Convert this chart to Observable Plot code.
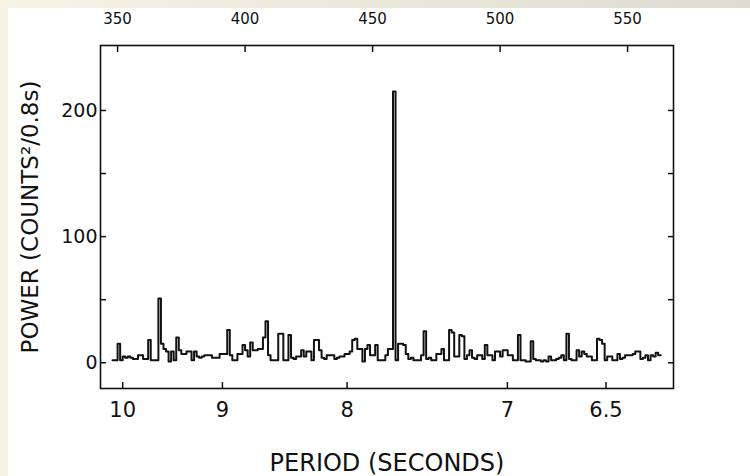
<!DOCTYPE html>
<html>
<head>
<meta charset="utf-8">
<script src="https://cdn.jsdelivr.net/npm/d3@7"></script>
<script src="https://cdn.jsdelivr.net/npm/@observablehq/plot@0.6"></script>
<style>
  html, body { margin: 0; padding: 0; background: #fff; }
  #page { position: relative; width: 750px; height: 476px; background: #f6f3e4; overflow: hidden; }
  #page::before { content: ""; position: absolute; left: 0; top: 0; width: 750px; height: 8px;
    background: linear-gradient(to right, #f7f4e6, #dedbd0); }
  #sheet { position: absolute; left: 8px; top: 8px; right: 0; bottom: 0; background: #fff; }
  #chart { position: absolute; left: 0; top: 0; }
</style>
</head>
<body>
<div id="page"><div id="sheet"></div><div id="chart"></div></div>
<script>
// Power spectrum: one value per frequency bin, starting at bin 348
const firstBin = 348;
const power = [
  2, 2, 15, 2, 5, 4, 5, 4, 3, 3,          // 348-357
  6, 6, 3, 3, 18, 2, 2, 2, 51, 15,        // 358-367
  11, 9, 1, 9, 2, 20, 10, 7, 7, 9,        // 368-377
  9, 2, 9, 5, 4, 5, 6, 6, 6, 4,           // 378-387
  4, 4, 7, 7, 7, 26, 6, 2, 2, 7,          // 388-397
  7, 14, 10, 5, 16, 10, 10, 11, 11, 20,   // 398-407
  33, 6, 2, 2, 2, 23, 23, 2, 2, 22,       // 408-417
  4, 3, 5, 5, 10, 5, 9, 9, 2, 18,         // 418-427
  18, 10, 4, 3, 6, 6, 6, 3, 4, 5,         // 428-437
  5, 7, 7, 9, 18, 19, 11, 11, 1, 11,      // 438-447
  14, 6, 6, 14, 2, 2, 2, 6, 11, 11,       // 448-457
  215, 2, 15, 15, 14, 7, 3, 4, 2, 2,      // 458-467
  2, 6, 25, 3, 4, 2, 2, 7, 7, 11,         // 468-477
  2, 2, 26, 24, 5, 5, 22, 21, 3, 6,       // 478-487
  10, 4, 3, 6, 6, 3, 14, 6, 6, 2,         // 488-497
  9, 9, 5, 10, 10, 6, 6, 2, 2, 22,        // 498-507
  2, 2, 1, 1, 17, 3, 2, 2, 1, 2,          // 508-517
  1, 5, 2, 2, 3, 4, 6, 2, 23, 3,          // 518-527
  2, 2, 10, 5, 9, 7, 5, 5, 2, 2,          // 528-537
  19, 18, 15, 2, 5, 5, 2, 2, 7, 3,        // 538-547
  4, 6, 6, 6, 7, 9, 9, 3, 4, 6,           // 548-557
  2, 6, 5, 8, 6                           // 558-562
];

// Axis ticks
const binTicks = [350, 400, 450, 500, 550];
const periodTicks = [10, 9, 8, 7, 6.5];
const powerLabelTicks = [0, 100, 200];
const powerTickMarks = [0, 50, 100, 150, 200];

// Length of the observation (s): a period P falls at bin T / P
const T = 3520;

const xTitle = "PERIOD (SECONDS)";
const yTitle = "POWER (COUNTS\u00B2/0.8s)";

// Step outline: each bin spans [b, b + 1)
const rows = power.map((p, i) => ({bin: firstBin + i, power: p}));
rows.push({bin: firstBin + power.length, power: power[power.length - 1]});

const periodBins = periodTicks.map(p => T / p);
const periodFormat = b => String(Math.round((T / b) * 10) / 10);

const FONT = "'DejaVu Sans', sans-serif";
const INK = "#111";

const chart = Plot.plot({
  width: 750,
  height: 476,
  marginLeft: 100,
  marginRight: 77,
  marginTop: 45,
  marginBottom: 88,
  style: {background: "transparent", fontFamily: FONT, color: INK, overflow: "visible"},
  x: {domain: [343.3, 568]},
  y: {domain: [-20.4, 251.5]},
  marks: [
    Plot.frame({stroke: INK, strokeWidth: 1.6}),
    // inward-pointing ticks on all four sides
    Plot.axisY(powerTickMarks, {anchor: "left", tickSize: 6, dx: 6, fill: "none", label: null, strokeWidth: 1.5}),
    Plot.axisY(powerTickMarks, {anchor: "right", tickSize: 6, dx: -6, fill: "none", label: null, strokeWidth: 1.5}),
    Plot.axisX(binTicks, {anchor: "top", tickSize: 6, dy: 6, fill: "none", label: null, strokeWidth: 1.5}),
    Plot.axisX(periodBins, {anchor: "bottom", tickSize: 6, dy: -6, fill: "none", label: null, strokeWidth: 1.5}),
    // tick labels
    Plot.axisY(powerLabelTicks, {anchor: "left", tickSize: 0, tickPadding: 3, fontSize: 19, label: null}),
    Plot.axisX(binTicks, {anchor: "top", tickSize: 0, tickPadding: 22, fontSize: 15, label: null}),
    Plot.axisX(periodBins, {anchor: "bottom", tickSize: 0, tickPadding: 14, fontSize: 21,
      tickFormat: periodFormat, label: null}),
    // the spectrum
    Plot.line(rows, {x: "bin", y: "power", curve: "step-after", stroke: INK, strokeWidth: 2}),
    // axis titles
    Plot.text([xTitle], {text: d => d, frameAnchor: "bottom", textAnchor: "middle", lineAnchor: "middle",
      dy: 75, fontSize: 24, letterSpacing: "1.2px", fill: INK}),
    Plot.text([yTitle], {text: d => d, frameAnchor: "left", textAnchor: "middle", lineAnchor: "middle",
      dx: -70, rotate: -90, fontSize: 23, letterSpacing: "1px", fill: INK})
  ]
});

document.getElementById("chart").append(chart);
</script>
</body>
</html>
